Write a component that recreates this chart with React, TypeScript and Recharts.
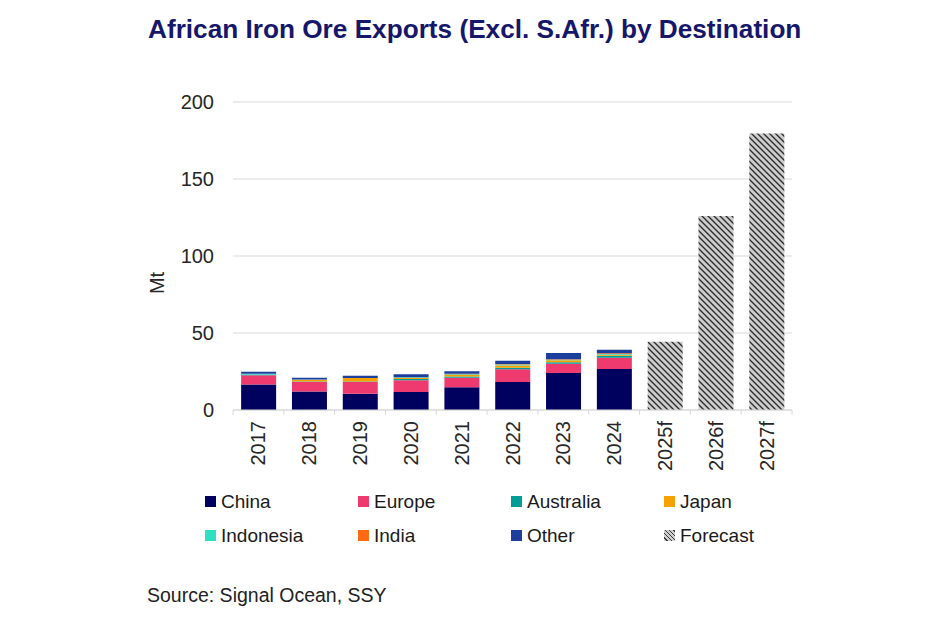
import { BarChart, Bar, XAxis, YAxis, CartesianGrid, Legend } from 'recharts';

const years = ['2017', '2018', '2019', '2020', '2021', '2022', '2023', '2024', '2025f', '2026f', '2027f'];
const china = [16.5, 12.0, 10.6, 11.7, 14.7, 18.2, 24.0, 26.6, null, null, null];
const europe = [6.1, 6.2, 7.6, 7.6, 6.3, 8.2, 6.1, 7.4, null, null, null];
const australia = [0.5, 0.3, 0.3, 0.8, 0.8, 1.0, 0.9, 1.2, null, null, null];
const japan = [0, 1.1, 2.2, 0.9, 0.9, 1.5, 1.3, 0.6, null, null, null];
const indonesia = [0.5, 0.2, 0.1, 0.2, 0.5, 0.6, 0.3, 0.6, null, null, null];
const india = [0, 0, 0, 0, 0.3, 0.4, 0.3, 0.4, null, null, null];
const other = [1.3, 1.1, 1.5, 2.0, 1.6, 2.0, 4.1, 2.4, null, null, null];
const forecast = [null, null, null, null, null, null, null, null, 44.3, 126, 179.5];
const yTicks = [0, 50, 100, 150, 200];

const data = years.map((year, i) => ({
  year,
  china: china[i],
  europe: europe[i],
  australia: australia[i],
  japan: japan[i],
  indonesia: indonesia[i],
  india: india[i],
  other: other[i],
  forecast: forecast[i],
}));

const series = [
  { key: 'china', name: 'China', color: '#00005F' },
  { key: 'europe', name: 'Europe', color: '#EE3A6F' },
  { key: 'australia', name: 'Australia', color: '#009E96' },
  { key: 'japan', name: 'Japan', color: '#F5A200' },
  { key: 'indonesia', name: 'Indonesia', color: '#2EE0C2' },
  { key: 'india', name: 'India', color: '#FF6A13' },
  { key: 'other', name: 'Other', color: '#1C3F9E' },
];

const FONT = "'Liberation Sans', Arial, sans-serif";
const TEXT = '#262626';
const TICK_SIZE = 5;
const TICK_MARGIN = 6;

const hatchCss = 'repeating-linear-gradient(45deg, #cfcfcf 0px, #cfcfcf 2px, #3a3a3a 2px, #3a3a3a 3px)';

function YearTick(props: any) {
  const { x, y, payload, index, visibleTicksCount } = props;
  const half = payload.offset ?? 0;
  const top = y - TICK_MARGIN - TICK_SIZE;
  const isLast = index === visibleTicksCount - 1;
  return (
    <g>
      <line x1={x - half} x2={x - half} y1={top} y2={top + TICK_SIZE} stroke="#d9d9d9" />
      {isLast && (
        <line x1={x + half} x2={x + half} y1={top} y2={top + TICK_SIZE} stroke="#d9d9d9" />
      )}
      <text
        x={x}
        y={y}
        transform={`rotate(-90, ${x}, ${y})`}
        textAnchor="end"
        dominantBaseline="central"
        fontSize={20}
        fill={TEXT}
        fontFamily={FONT}
      >
        {payload.value}
      </text>
    </g>
  );
}

function LegendBox() {
  const items = [
    ...series.map((s) => ({ name: s.name, bg: s.color })),
    { name: 'Forecast', bg: hatchCss },
  ];
  return (
    <div
      style={{
        display: 'grid',
        gridTemplateColumns: 'repeat(4, 153px)',
        rowGap: 11,
        fontSize: 19,
        fontFamily: FONT,
        color: '#1a1a1a',
      }}
    >
      {items.map((item) => (
        <div key={item.name} style={{ display: 'flex', alignItems: 'center', height: 23 }}>
          <span
            style={{ display: 'inline-block', width: 11, height: 11, background: item.bg, marginRight: 5 }}
          />
          {item.name}
        </div>
      ))}
    </div>
  );
}

export default function App() {
  return (
    <div style={{ position: 'relative', width: 940, height: 627, margin: -8, background: '#fff', fontFamily: FONT }}>
      <BarChart
        width={940}
        height={627}
        data={data}
        margin={{ top: 102, right: 148, bottom: 157, left: 0 }}
        barCategoryGap="16%"
        style={{ position: 'absolute', left: 0, top: 0 }}
      >
        <defs>
          <pattern id="hatch" width="6" height="6" patternUnits="userSpaceOnUse">
            <rect width="6" height="6" fill="#cdcdcd" />
            <path d="M0,0 L6,6 M-1,5 L1,7 M5,-1 L7,1" stroke="#2a2a2a" strokeWidth={1.35} />
          </pattern>
        </defs>
        <CartesianGrid vertical={false} stroke="#d9d9d9" />
        <XAxis
          dataKey="year"
          height={60}
          axisLine={{ stroke: '#d9d9d9' }}
          tickLine={false}
          tickSize={TICK_SIZE}
          tickMargin={TICK_MARGIN}
          interval={0}
          tick={<YearTick />}
        />
        <YAxis
          width={233}
          domain={[0, 200]}
          ticks={yTicks}
          axisLine={false}
          tickLine={false}
          tickSize={0}
          tickMargin={19}
          tick={{ fontSize: 20, fill: TEXT, fontFamily: FONT }}
        />
        {series.map((s) => (
          <Bar key={s.key} dataKey={s.key} name={s.name} stackId="a" fill={s.color} isAnimationActive={false} />
        ))}
        <Bar dataKey="forecast" name="Forecast" stackId="a" fill="url(#hatch)" isAnimationActive={false} />
        <Legend
          layout="horizontal"
          verticalAlign="middle"
          align="center"
          content={() => <LegendBox />}
          wrapperStyle={{ left: 205, top: 490, width: 640 }}
        />
      </BarChart>
      <svg
        width={940}
        height={627}
        style={{ position: 'absolute', left: 0, top: 0, pointerEvents: 'none' }}
      >
        <text x={148} y={38} fontSize={26.2} fontWeight="bold" fill="#16166A" fontFamily={FONT}>
          African Iron Ore Exports (Excl. S.Afr.) by Destination
        </text>
        <text
          x={157}
          y={283}
          transform="rotate(-90, 157, 283)"
          textAnchor="middle"
          dominantBaseline="central"
          fontSize={20}
          fill={TEXT}
          fontFamily={FONT}
        >
          Mt
        </text>
        <text x={147} y={602} fontSize={19.5} fill="#222" fontFamily={FONT}>
          Source: Signal Ocean, SSY
        </text>
      </svg>
    </div>
  );
}
